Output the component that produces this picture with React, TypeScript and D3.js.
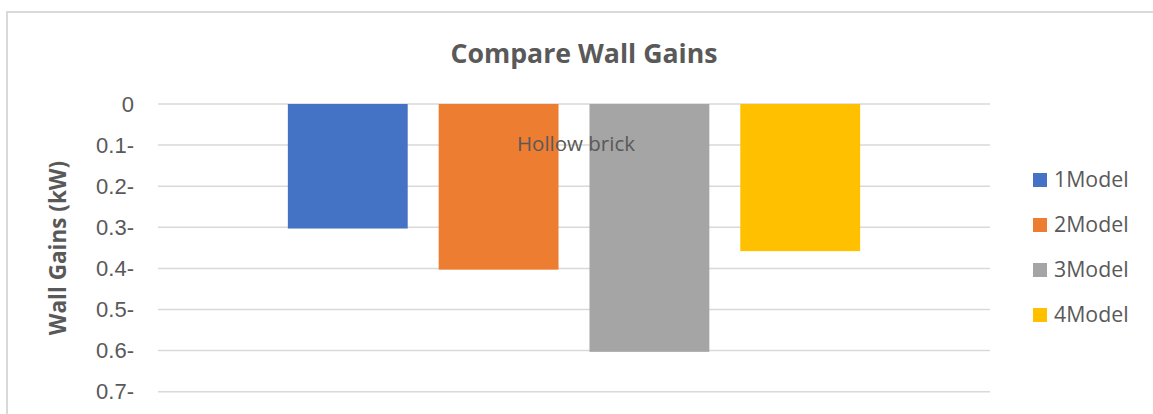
import React from "react";
import * as d3 from "d3";

const seriesNames = ["1Model", "2Model", "3Model", "4Model"];
const seriesValues = [0.303, 0.403, 0.603, 0.358];
const seriesColors = ["#4472C4", "#ED7D31", "#A5A5A5", "#FFC000"];
const yTicks = [0, 0.1, 0.2, 0.3, 0.4, 0.5, 0.6, 0.7];
const yTickLabels = ["0", "0.1-", "0.2-", "0.3-", "0.4-", "0.5-", "0.6-", "0.7-"];
const categoryLabel = "Hollow brick";
const title = "Compare Wall Gains";
const yTitle = "Wall Gains (kW)";

const W = 1153;
const H = 414;
const plot = { left: 158, right: 990, top: 104, bottom: 391.7 };
const textColor = "#595959";
const gridColor = "#D9D9D9";

export default function App() {
  const y = d3.scaleLinear().domain([0, 0.7]).range([plot.top, plot.bottom]);
  const x = d3
    .scaleBand<string>()
    .domain(seriesNames)
    .range([plot.left, plot.right])
    .paddingInner(0.2053)
    .paddingOuter(0.861);
  const legendY = d3.scalePoint<string>().domain(seriesNames).range([180, 315]);

  return (
    <svg
      width={W}
      height={H}
      style={{ position: "absolute", left: 0, top: 0, background: "#fff" }}
    >
      <rect x={7} y={12} width={W + 10} height={H + 10} fill="#fff" stroke={gridColor} strokeWidth={2} />
      <text
        x={584}
        y={63}
        textAnchor="middle"
        fontFamily="'Open Sans', sans-serif"
        fontWeight="bold"
        fontSize={26.7}
        fill={textColor}
      >
        {title}
      </text>
      {yTicks.map((t) => (
        <line
          key={t}
          x1={plot.left}
          x2={plot.right}
          y1={y(t)}
          y2={y(t)}
          stroke={gridColor}
          strokeWidth={1.5}
        />
      ))}
      {yTicks.map((t, i) => (
        <text
          key={"l" + t}
          x={134}
          y={y(t)}
          dy="0.35em"
          textAnchor="end"
          fontFamily="'Liberation Sans Narrow', 'Arial Narrow', 'Liberation Sans', sans-serif"
          fontSize={22}
          fill={textColor}
        >
          {yTickLabels[i]}
        </text>
      ))}
      <text
        transform={`translate(66,248) rotate(-90)`}
        textAnchor="middle"
        fontFamily="'Open Sans', sans-serif"
        fontWeight="bold"
        fontSize={22.5}
        fill={textColor}
      >
        {yTitle}
      </text>
      {seriesNames.map((s, i) => (
        <rect
          key={s}
          x={x(s)}
          y={y(0)}
          width={x.bandwidth()}
          height={y(seriesValues[i]) - y(0)}
          fill={seriesColors[i]}
        />
      ))}
      <text
        x={576}
        y={144}
        dy="0.35em"
        textAnchor="middle"
        fontFamily="'Open Sans', sans-serif"
        fontSize={20.5}
        fill={textColor}
      >
        {categoryLabel}
      </text>
      {seriesNames.map((s, i) => (
        <g key={"lg" + s} transform={`translate(1033,${legendY(s)})`}>
          <rect x={0} y={-7} width={14} height={14} fill={seriesColors[i]} />
          <text
            x={21}
            y={0}
            dy="0.35em"
            fontFamily="'Open Sans', sans-serif"
            fontSize={21.3}
            fill={textColor}
          >
            {s}
          </text>
        </g>
      ))}
    </svg>
  );
}
